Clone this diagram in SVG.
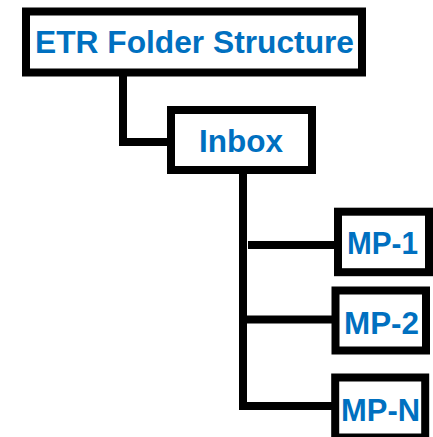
<svg xmlns="http://www.w3.org/2000/svg" width="433" height="437" viewBox="0 0 433 437">
<style>
.box{fill:#ffffff;stroke:#000000;stroke-width:8}
.lbl{font-family:"Liberation Sans",Arial,sans-serif;font-weight:bold;font-size:32px;fill:#0070C0}
.conn{fill:none;stroke:#000000;stroke-width:8;stroke-linejoin:miter;stroke-linecap:butt}
</style>
<rect width="433" height="437" fill="#ffffff"/>
<g id="connectors">
<path class="conn" d="M123,72 V142 H171"/>
<path class="conn" d="M243,170 V406 H335"/>
<path class="conn" d="M243,319.5 H335.5"/>
<path class="conn" d="M248,245 H338"/>
</g>
<g id="node-root">
<rect class="box" x="26" y="11.5" width="336" height="61"/>
<text class="lbl" x="35" y="53" textLength="319" lengthAdjust="spacingAndGlyphs">ETR Folder Structure</text>
</g>
<g id="node-inbox">
<rect class="box" x="171" y="110" width="141" height="60"/>
<text class="lbl" x="199" y="152" textLength="84" lengthAdjust="spacingAndGlyphs">Inbox</text>
</g>
<g id="node-mp1">
<rect class="box" x="338" y="211.7" width="91" height="60.5"/>
<text class="lbl" x="347" y="254" textLength="71" lengthAdjust="spacingAndGlyphs">MP-1</text>
</g>
<g id="node-mp2">
<rect class="box" x="335.5" y="290.5" width="90.5" height="60"/>
<text class="lbl" x="344" y="334" textLength="75" lengthAdjust="spacingAndGlyphs">MP-2</text>
</g>
<g id="node-mpn">
<rect class="box" x="335.2" y="377.5" width="90" height="60"/>
<text class="lbl" x="341" y="421" textLength="79" lengthAdjust="spacingAndGlyphs">MP-N</text>
</g>
</svg>
